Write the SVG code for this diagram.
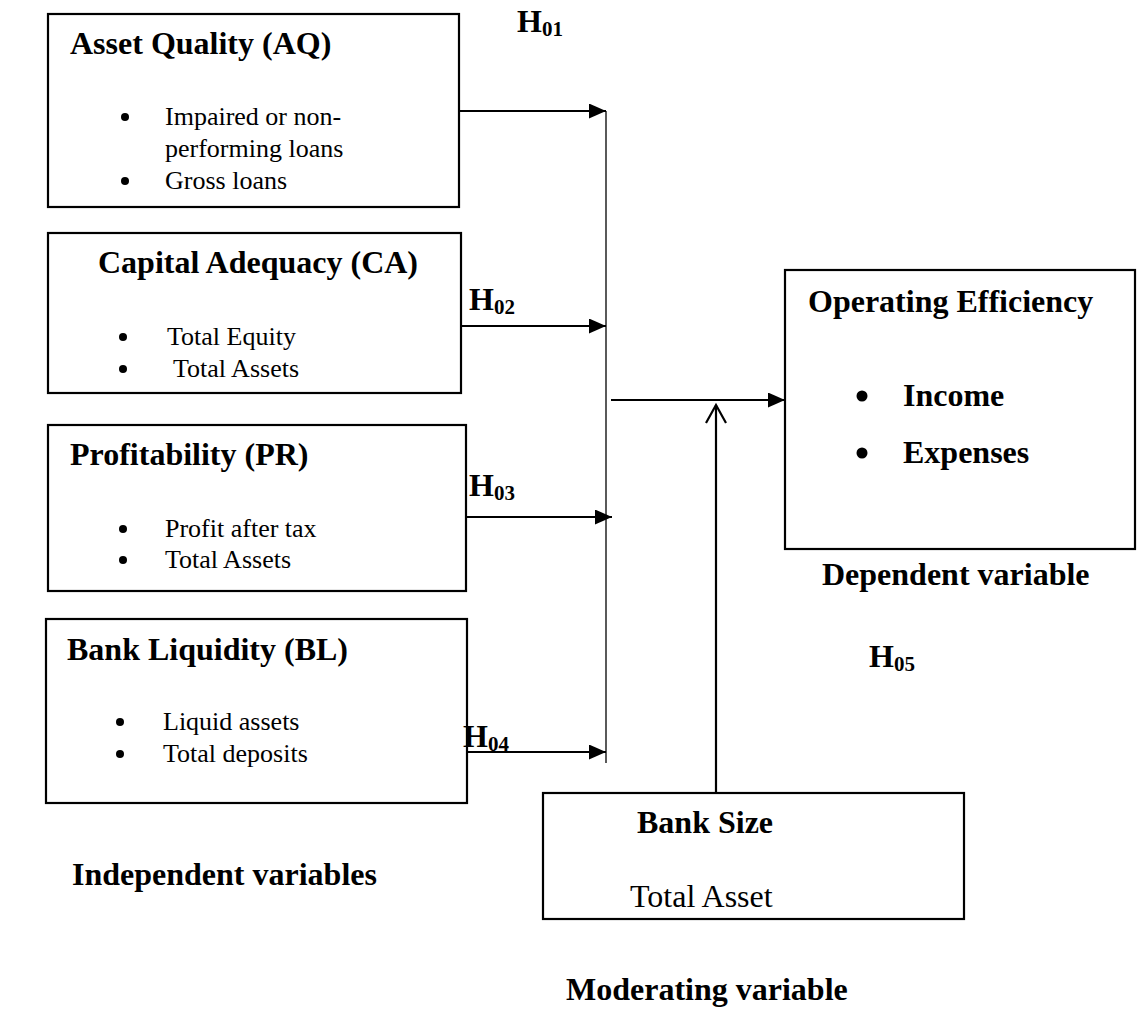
<svg xmlns="http://www.w3.org/2000/svg" width="1138" height="1016" viewBox="0 0 1138 1016">
<defs>
<marker id="ah" markerUnits="userSpaceOnUse" markerWidth="18" markerHeight="16" refX="17" refY="7.5" orient="auto">
<path d="M0,0 L17,7.5 L0,15 z" fill="#000"/>
</marker>
<style>
.box{fill:#fff;stroke:#000;stroke-width:2.2}
.t{font-family:"Liberation Serif","Times New Roman",serif;fill:#000}
.h{font-size:32px;font-weight:bold}
.b{font-size:26px}
.hb{font-size:32px;font-weight:bold}
.con{stroke:#000;stroke-width:2.2;fill:none}
.thin{stroke:#000;stroke-width:1.3;fill:none}
</style>
</defs>
<rect width="1138" height="1016" fill="#fff"/>
<g id="connectors">
<line class="con" x1="459" y1="111" x2="606" y2="111" marker-end="url(#ah)"/>
<line class="con" x1="461" y1="326" x2="606" y2="326" marker-end="url(#ah)"/>
<line class="con" x1="466" y1="517" x2="612" y2="517" marker-end="url(#ah)"/>
<line class="con" x1="458" y1="752" x2="606" y2="752" marker-end="url(#ah)"/>
<line class="thin" x1="606" y1="111" x2="606" y2="763"/>
<line class="con" x1="611" y1="400" x2="785" y2="400" marker-end="url(#ah)"/>
<line class="con" x1="716" y1="793" x2="716" y2="405"/>
<polyline class="con" points="706,423 716,405 726,423"/>
</g>
<g id="aq">
<rect class="box" x="48" y="14" width="411" height="193"/>
<text class="t h" x="70" y="54">Asset Quality (AQ)</text>
<circle cx="125" cy="117" r="4"/>
<text class="t b" x="165" y="125">Impaired or non-</text>
<text class="t b" x="165" y="157">performing loans</text>
<circle cx="125" cy="181" r="4"/>
<text class="t b" x="165" y="189">Gross loans</text>
</g>
<g id="ca">
<rect class="box" x="48" y="233" width="413" height="160"/>
<text class="t h" x="98" y="273">Capital Adequacy (CA)</text>
<circle cx="123" cy="337" r="4"/>
<text class="t b" x="167" y="345">Total Equity</text>
<circle cx="123" cy="369" r="4"/>
<text class="t b" x="173" y="377">Total Assets</text>
</g>
<g id="pr">
<rect class="box" x="48" y="425" width="418" height="166"/>
<text class="t h" x="70" y="465">Profitability (PR)</text>
<circle cx="123" cy="529" r="4"/>
<text class="t b" x="165" y="537">Profit after tax</text>
<circle cx="123" cy="560" r="4"/>
<text class="t b" x="165" y="568">Total Assets</text>
</g>
<g id="bl">
<rect class="box" x="46" y="619" width="421" height="184"/>
<text class="t h" x="67" y="660">Bank Liquidity (BL)</text>
<circle cx="120" cy="722" r="4"/>
<text class="t b" x="163" y="730">Liquid assets</text>
<circle cx="120" cy="754" r="4"/>
<text class="t b" x="163" y="762">Total deposits</text>
</g>
<g id="oe">
<rect class="box" x="785" y="270" width="350" height="279"/>
<text class="t h" x="808" y="312">Operating Efficiency</text>
<circle cx="862" cy="396" r="5.5"/>
<text class="t h" x="903" y="406">Income</text>
<circle cx="862" cy="453" r="5.5"/>
<text class="t h" x="903" y="463">Expenses</text>
</g>
<g id="bs">
<rect class="box" x="543" y="793" width="421" height="126"/>
<text class="t h" x="637" y="833">Bank Size</text>
<text class="t" font-size="32" x="630" y="907">Total Asset</text>
</g>
<g id="labels">
<text class="t hb" x="517" y="32">H<tspan font-size="21" dy="4">01</tspan></text>
<text class="t hb" x="469" y="310">H<tspan font-size="21" dy="4">02</tspan></text>
<text class="t hb" x="469" y="496">H<tspan font-size="21" dy="4">03</tspan></text>
<text class="t hb" x="463" y="747">H<tspan font-size="21" dy="4">04</tspan></text>
<text class="t hb" x="869" y="667">H<tspan font-size="21" dy="4">05</tspan></text>
<text class="t hb" x="822" y="585">Dependent variable</text>
<text class="t hb" x="72" y="885">Independent variables</text>
<text class="t hb" x="566" y="1000">Moderating variable</text>
</g>
</svg>
